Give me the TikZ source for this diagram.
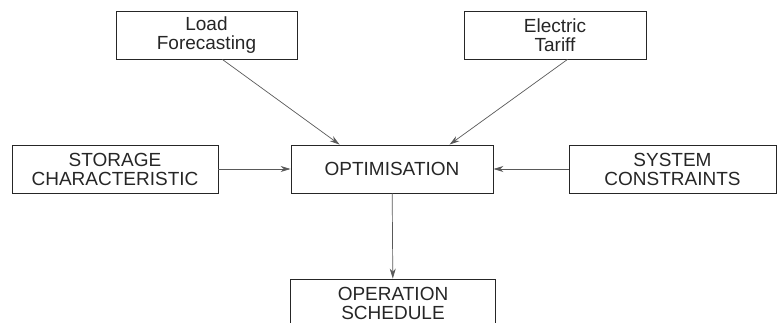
\documentclass[tikz,border=0pt]{standalone}
\usepackage{fontspec}
\setmainfont{Liberation Sans}
\usetikzlibrary{arrows.meta}

\tikzset{
  box/.style={draw=black!85, line width=0.9pt, minimum height=48pt,
    align=center, inner sep=0pt, font=\fontsize{19}{19}\selectfont, text=black!85},
  link/.style={->, draw=black!65, line width=0.7pt}
}

\begin{document}
\begin{tikzpicture}[x=1pt, y=-1pt, >={Stealth[length=10pt,width=6pt]}]
  \useasboundingbox (0,0) rectangle (782,323);

  % Nodes
  \node[box, minimum width=181pt] (load) at (206.5,35) {Load\\Forecasting};
  \node[box, minimum width=182pt] (tariff) at (555,35) {Electric\\Tariff};
  \node[box, minimum width=206pt] (storage) at (115,169) {STORAGE\\CHARACTERISTIC};
  \node[box, minimum width=202pt] (optim) at (392,169) {OPTIMISATION};
  \node[box, minimum width=207pt] (constr) at (672.5,169) {SYSTEM\\CONSTRAINTS};
  \node[box, minimum width=205pt] (sched) at (393,303) {OPERATION\\SCHEDULE};

  % Arrows into the optimisation
  \draw[link] (load.-57) to (optim.155);
  \draw[link] (tariff.-63) to (optim.23);
  \draw[link] (storage) to (optim);
  \draw[link] (constr) to (optim);

  % Arrow down
  \draw[link] (optim) to (sched);

\end{tikzpicture}
\end{document}
